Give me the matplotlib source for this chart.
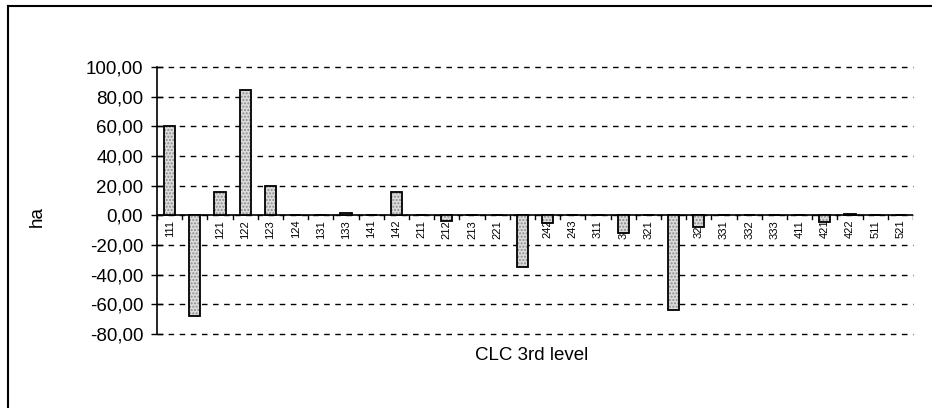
import matplotlib
matplotlib.use('Agg')
import matplotlib.pyplot as plt
from matplotlib.lines import Line2D
from matplotlib.ticker import FuncFormatter
import numpy as np

#%% data
codes = ['111', '112', '121', '122', '123', '124', '131', '133', '141', '142',
         '211', '212', '213', '221', '222', '242', '243',
         '311', '312', '321', '322', '324', '331', '332', '333',
         '411', '421', '422', '511', '521']
ha = [60.0, -68.0, 15.5, 84.5, 20.0, 0.0, 0.0, 1.5, 0.0, 16.0,
      0.0, -4.0, 0.0, 0.0, -35.0, -5.0, 0.0,
      0.0, -12.0, 0.0, -63.5, -8.0, 0.0, 0.0, 0.0,
      0.0, -4.5, 0.8, 0.0, 0.0]
yticks = [-80, -60, -40, -20, 0, 20, 40, 60, 80, 100]

#%% plot
plt.rcParams['font.family'] = ['Liberation Sans', 'DejaVu Sans']
fig = plt.figure(figsize=(9.32, 4.08), dpi=100)
ax = fig.add_axes([0.1685, 0.1814, 0.8111, 0.6544])

x = np.arange(len(codes))
ax.bar(x, ha, width=0.44, color='#dcdcdc', edgecolor='#8a8a8a', hatch='.....',
       linewidth=0, zorder=3)
ax.bar(x, ha, width=0.44, color='none', edgecolor='black', linewidth=1.3, zorder=4)

ax.set_xlim(-0.5, len(codes) - 0.5)
ax.set_ylim(-80, 100)
ax.set_yticks(yticks)
ax.yaxis.set_major_formatter(FuncFormatter(lambda v, p: ('%.2f' % v).replace('.', ',')))
ax.tick_params(axis='y', direction='inout', length=8, width=1, labelsize=13.5, pad=6)
ax.grid(axis='y', color='black', linestyle=(0, (4, 4)), linewidth=1, zorder=0)
for gl in ax.get_ygridlines():
    gl.set_clip_on(False)

# category axis at zero
ax.set_xticks([])
ax.axhline(0, color='black', linewidth=1.2, zorder=2)
for xi in np.arange(len(codes) + 1) - 0.5:
    ax.plot([xi, xi], [0, -2.5], color='black', linewidth=1, zorder=2)
for xi, c in zip(x, codes):
    ax.text(xi, -3, c, rotation=90, ha='center', va='top', fontsize=8, zorder=2)

for s in ['top', 'right', 'bottom']:
    ax.spines[s].set_visible(False)
ax.spines['left'].set_linewidth(1.2)

fig.text(0.04, 0.47, 'ha', rotation=90, ha='center', va='center', fontsize=13.5)
fig.text(0.57, 0.128, 'CLC 3rd level', ha='center', va='center', fontsize=13.5)

# outer chart frame
fig.add_artist(Line2D([8 / 932, 1], [1 - 6 / 408, 1 - 6 / 408], color='black', linewidth=1.5))
fig.add_artist(Line2D([8 / 932, 8 / 932], [0, 1 - 6 / 408], color='black', linewidth=1.5))

fig.savefig('out.png', dpi=100)
